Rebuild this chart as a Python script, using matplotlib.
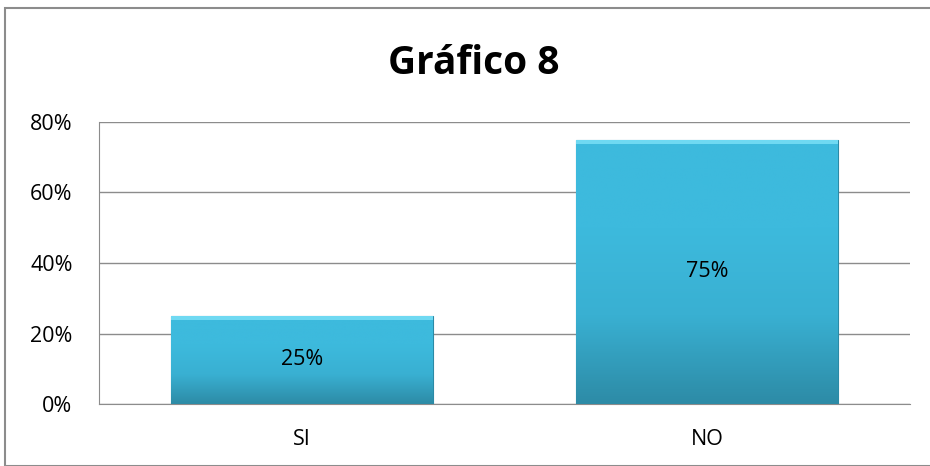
import matplotlib.pyplot as plt
import numpy as np
from matplotlib.patches import Rectangle
from matplotlib.colors import LinearSegmentedColormap

categories = ["SI", "NO"]
values = [25, 75]
value_labels = ["25%", "75%"]
yticks = [0, 20, 40, 60, 80]

plt.rcParams['font.family'] = ['Open Sans', 'DejaVu Sans']

fig = plt.figure(figsize=(9.3, 4.66), dpi=100)
ax = fig.add_axes([99 / 930, 1 - 404 / 466, 811 / 930, 282 / 466])

# outer chart border
fig.patches.append(Rectangle((5 / 930, 0), 1.0, 1 - 8 / 466, transform=fig.transFigure,
                             fill=False, edgecolor='#8c8c8c', linewidth=1.5))

x = np.arange(len(categories))
width = 0.645
bars = ax.bar(x, values, width=width, color='#3bb3d6', zorder=3,
              edgecolor='#2b8aa6', linewidth=0.8)

# vertical gradient on each bar
cmap = LinearSegmentedColormap.from_list('bar', ['#2d8ba6', '#39b0d2', '#3dbadd', '#3dbadd'])
grad = np.linspace(0, 1, 256).reshape(-1, 1)
for b in bars:
    x0, y0 = b.get_x(), b.get_y()
    im = ax.imshow(grad, extent=[x0, x0 + b.get_width(), y0, y0 + b.get_height()],
                   origin='lower', cmap=cmap, aspect='auto', zorder=3.5)
    im.set_clip_path(b)
    # light top bevel
    ax.add_patch(Rectangle((x0, y0 + b.get_height() - 1.2), b.get_width(), 1.2,
                           facecolor='#6fd9f2', edgecolor='none', zorder=4))

for xi, v, lab in zip(x, values, value_labels):
    ax.text(xi, v / 2, lab, ha='center', va='center', fontsize=15.5, zorder=5)

ax.set_xlim(-0.5, 1.5)
ax.set_ylim(0, 80)
ax.set_yticks(yticks)
ax.set_yticklabels([f"{t}%" for t in yticks], fontsize=15.5)
ax.set_xticks(x)
ax.set_xticklabels(categories, fontsize=15.5)
ax.tick_params(axis='x', length=0, pad=18)
ax.tick_params(axis='y', length=0, pad=19)
ax.yaxis.grid(True, color='#8c8c8c', linewidth=1.0, zorder=0)
ax.set_axisbelow(True)
for s in ['top', 'right']:
    ax.spines[s].set_visible(False)
for s in ['left', 'bottom']:
    ax.spines[s].set_color('#8c8c8c')

fig.text(474 / 930, 1 - 63 / 466, "Gráfico 8", ha='center', va='center',
         fontsize=28, fontweight='bold')

fig.savefig("out.png", dpi=100)
